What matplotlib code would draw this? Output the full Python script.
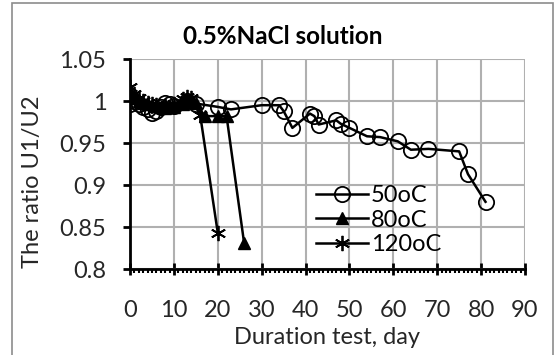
import matplotlib.pyplot as plt
from matplotlib.patches import Rectangle
from matplotlib.ticker import MultipleLocator

plt.rcParams['font.family'] = ['Lato', 'DejaVu Sans']

# data
days_50 = [0, 1, 2, 3, 4, 5, 6, 7, 8, 9, 10, 13, 15, 20, 23, 30, 34, 35, 37,
           41, 42, 43, 47, 48, 50, 54, 57, 61, 64, 68, 75, 77, 81]
ratio_50 = [0.997, 1.0, 0.996, 0.993, 0.99, 0.986, 0.988, 0.993, 0.998, 0.996,
            0.994, 1.0, 0.997, 0.993, 0.99, 0.995, 0.995, 0.988, 0.968, 0.985,
            0.982, 0.972, 0.977, 0.973, 0.968, 0.958, 0.957, 0.952, 0.942,
            0.943, 0.94, 0.913, 0.88]

days_80 = [0, 1, 2, 3, 4, 6, 7, 8, 10, 12, 13, 14, 15, 17, 20, 22, 26]
ratio_80 = [1.01, 1.003, 1.0, 0.998, 0.997, 0.995, 0.993, 0.992, 0.993, 0.997,
            1.0, 1.001, 0.998, 0.982, 0.982, 0.982, 0.831]

days_120 = [0, 1, 2, 3, 4, 5, 6, 8, 10, 12, 13, 14, 16, 20]
ratio_120 = [1.017, 1.008, 1.003, 1.0, 0.998, 0.997, 0.995, 0.994, 0.996,
             1.002, 1.005, 1.003, 0.983, 0.843]

fig = plt.figure(figsize=(5.54, 3.55), dpi=100)
ax = fig.add_axes([130/554, 1 - 269/355, 395/554, 210/355])

# outer chart border
fig.patches.append(Rectangle((12/554, -0.05), 541/554, 1.05 - 3/355,
                             transform=fig.transFigure, fill=False,
                             edgecolor='#8c8c8c', linewidth=1.2))

ax.plot(days_50, ratio_50, color='black', lw=1.8, marker='o', ms=11,
        mfc='none', mec='black', mew=1.3, label='50oC', zorder=3)
ax.plot(days_80, ratio_80, color='black', lw=1.8, marker='^', ms=8.5,
        mfc='black', mec='black', label='80oC', zorder=3)
ax.plot(days_120, ratio_120, color='black', lw=1.8, marker=(6, 2, 0), ms=11,
        mec='black', mew=1.3, label='120oC', zorder=3)

ax.set_xlim(0, 90)
ax.set_ylim(0.8, 1.05)
ax.xaxis.set_major_locator(MultipleLocator(10))
ax.xaxis.set_minor_locator(MultipleLocator(1))
ax.set_yticks([0.8, 0.85, 0.9, 0.95, 1.0, 1.05])
ax.set_yticklabels(['0.8', '0.85', '0.9', '0.95', '1', '1.05'])

ax.grid(True, which='major', color='#b0b0b0', lw=1.5, zorder=0)
ax.set_axisbelow(True)
for s in ['top', 'right']:
    ax.spines[s].set_visible(False)
for s in ['left', 'bottom']:
    ax.spines[s].set_linewidth(2)
    ax.spines[s].set_color('black')

ax.tick_params(axis='x', which='major', direction='inout', length=8, width=2,
               labelsize=17, pad=18, colors='black')
ax.tick_params(axis='x', which='minor', direction='out', length=3, width=1.5)
ax.tick_params(axis='y', which='major', direction='out', length=5, width=2,
               labelsize=17, pad=12)
for lab in ax.get_xticklabels() + ax.get_yticklabels():
    lab.set_color('#262626')

fig.text(327/554, 1 - 338/355, 'Duration test, day', fontsize=17,
         color='#262626', ha='center', va='center')
fig.text(33/554, 1 - 182/355, 'The ratio U1/U2', rotation=90, fontsize=17,
         color='#262626', ha='center', va='center')
fig.text(283/554, 1 - 37/355, '0.5%NaCl solution', fontsize=17.5,
         fontweight='bold', ha='center', va='center')

ax.legend(loc='upper left', bbox_to_anchor=(0.47, 0.40), frameon=False,
          fontsize=17, handlelength=2.2, labelspacing=0.15,
          handletextpad=0.15, borderpad=0, borderaxespad=0)

fig.savefig('out.png', dpi=100)
